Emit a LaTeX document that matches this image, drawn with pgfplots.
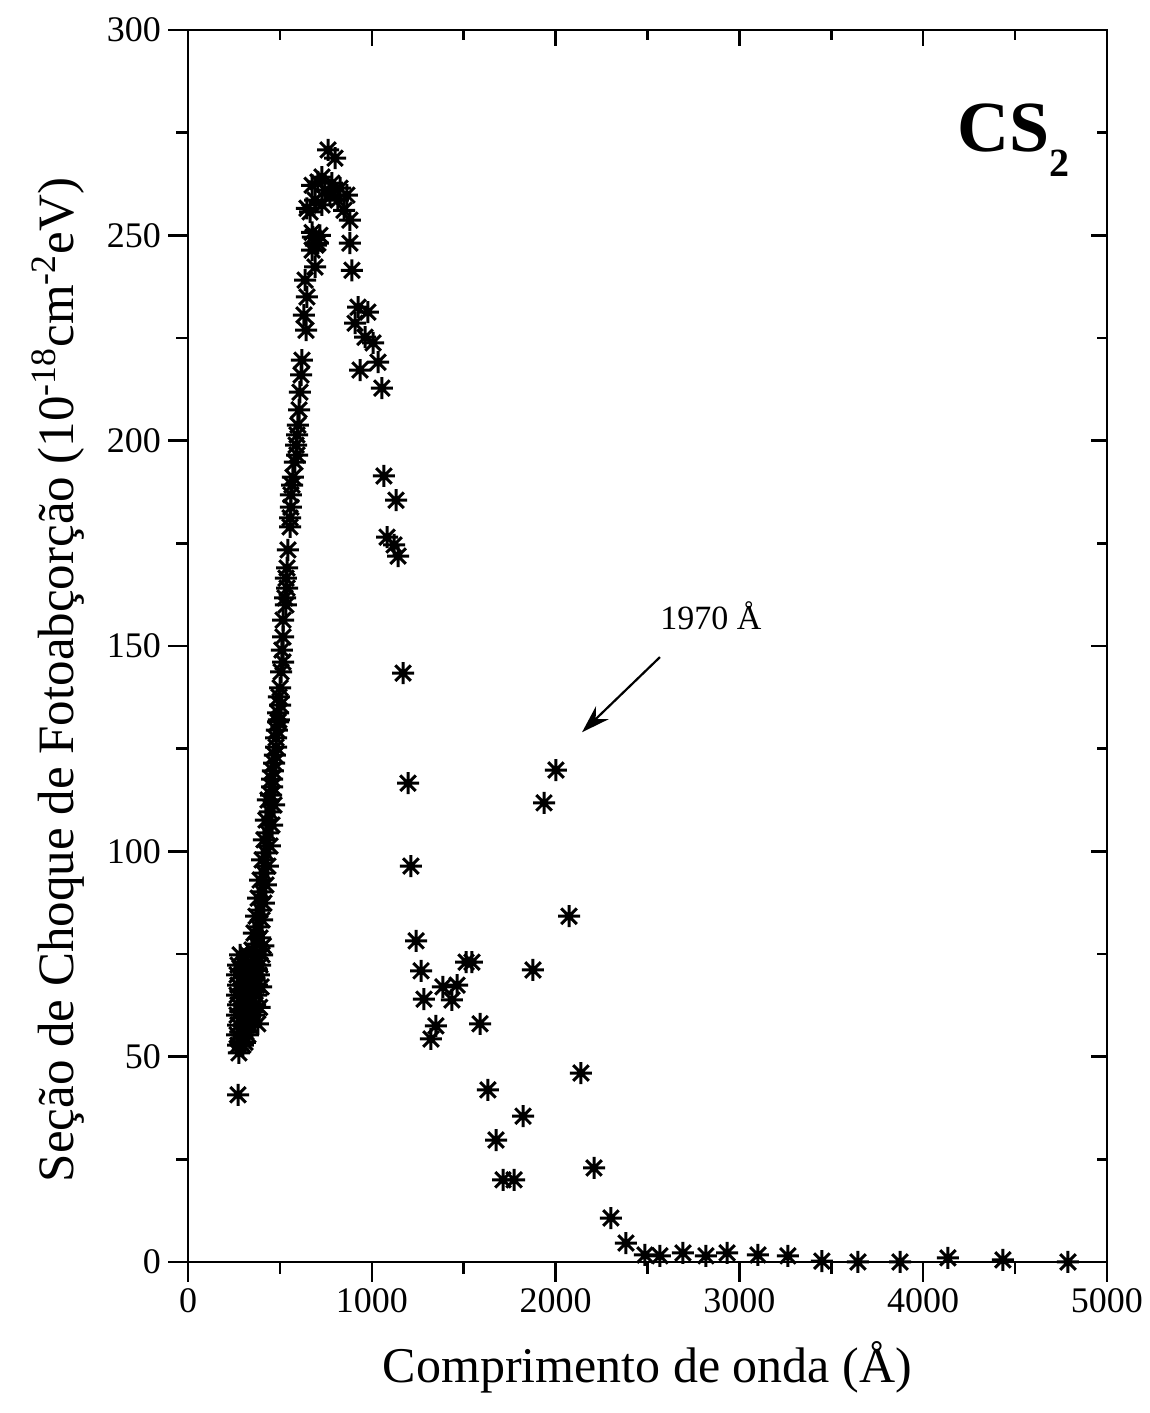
\documentclass[border=0pt]{standalone}
\usepackage{pgfplots}
\pgfplotsset{compat=1.18}
\usepackage{fontspec}
\setmainfont{Liberation Serif}
\usetikzlibrary{arrows.meta}

\pgfdeclareplotmark{star8}{%
  \pgfpathmoveto{\pgfqpoint{0pt}{\pgfplotmarksize}}%
  \pgfpathlineto{\pgfqpoint{0pt}{-\pgfplotmarksize}}%
  \pgfpathmoveto{\pgfqpoint{\pgfplotmarksize}{0pt}}%
  \pgfpathlineto{\pgfqpoint{-\pgfplotmarksize}{0pt}}%
  \pgfpathmoveto{\pgfqpoint{0.7071\pgfplotmarksize}{0.7071\pgfplotmarksize}}%
  \pgfpathlineto{\pgfqpoint{-0.7071\pgfplotmarksize}{-0.7071\pgfplotmarksize}}%
  \pgfpathmoveto{\pgfqpoint{-0.7071\pgfplotmarksize}{0.7071\pgfplotmarksize}}%
  \pgfpathlineto{\pgfqpoint{0.7071\pgfplotmarksize}{-0.7071\pgfplotmarksize}}%
  \pgfusepathqstroke}

\pgfplotstableread{
x y
283 74.8
326 74.8
370 74.8
403 74.8
272 72.3
315 72.3
359 72.3
392 72.3
290 71.0
335 71.0
375 71.0
267 69.9
310 69.9
354 69.9
386 69.9
272 67.4
305 67.4
343 67.4
375 67.4
398 67.0
285 66.0
320 66.0
355 66.0
267 65.0
299 65.0
337 65.0
370 65.0
272 62.6
305 62.6
337 62.6
365 62.6
390 62.0
285 61.0
318 61.0
348 61.0
267 60.1
299 60.1
332 60.1
359 60.1
380 58.0
272 57.7
305 57.7
337 57.7
285 56.0
315 56.0
267 55.3
299 55.3
326 55.3
285 53.5
310 53.5
272 52.8
299 52.8
277 50.9
272 40.7
410 77.0
348 76.0
370 77.4
392 78.9
359 80.1
381 81.6
403 83.3
370 84.2
392 85.7
413 87.4
381 88.6
403 90.1
424 91.8
392 93.0
413 94.7
435 96.4
403 97.9
424 99.6
446 101.3
413 102.8
435 104.5
457 106.4
424 107.6
446 109.6
468 111.3
435 112.5
452 113.7
457 115.7
457 117.6
462 119.6
468 121.5
473 123.4
479 125.4
479 127.6
484 129.5
490 131.5
495 132.0
490 133.7
501 135.6
495 137.6
501 139.8
506 143.7
517 146.1
511 149.0
517 152.2
517 156.3
533 160.0
528 161.7
539 164.1
533 166.5
539 169.0
544 173.4
555 179.0
555 181.2
560 183.8
560 186.8
566 189.2
571 191.1
582 194.8
593 196.5
588 198.9
593 201.4
598 203.8
604 207.5
609 211.8
615 216.0
620 219.6
642 226.9
631 230.6
647 235.0
637 239.1
691 242.3
675 246.4
696 247.6
680 249.6
718 250.0
675 250.7
664 255.7
647 256.6
691 258.6
729 257.4
675 262.2
707 263.0
745 261.0
783 262.7
827 261.5
865 259.8
772 259.8
816 258.6
849 256.1
729 264.2
799.8 268.8
761.7 270.8
707 248.1
881 253.7
881 248.1
892 241.5
925 232.5
979 231.3
909 228.6
963 225.2
1007 223.8
1034 219.1
936 217.2
1055 212.8
1066 191.4
1132 185.5
1083 176.5
1121 174.6
1143 171.9
1170 143.4
1197 116.6
1213 96.4
1241 78.2
1268 70.9
1284 64.0
1322 54.3
1349 57.5
1387 67.0
1436 63.8
1464 67.4
1513 73.0
1545 73.0
1589 58.0
1632 41.9
1676 29.7
1714 20.0
1774 20.0
1823 35.5
1877 71.1
1937 111.8
2002 119.8
2073 84.2
2138 46.0
2209 22.9
2301 10.7
2383 4.6
2486 1.7
2568 1.5
2693 2.2
2818 1.5
2933 2.2
3101 1.7
3264 1.5
3449 0.2
3645 0.0
3874 0.0
4135 1.0
4434 0.5
4788 0.0
}\cstwo

\begin{document}
\begin{tikzpicture}
\pgfplotsset{
  myax/.style={
    width=459.5pt, height=616pt, scale only axis,
    xmin=0, xmax=5000, ymin=0, ymax=300,
    xtick={0,1000,...,5000}, ytick={0,50,...,300},
    minor x tick num=1, minor y tick num=1,
    axis line style={line width=1.4pt},
    tick style={line width=1.3pt, black},
  }
}
\begin{axis}[myax,
  xtick pos=left, ytick pos=left, tick align=outside,
  major tick length=10pt, minor tick length=6pt,
  ticklabel style={font=\fontsize{18}{21}\selectfont},
  /pgf/number format/assume math mode=true,
  /pgf/number format/1000 sep={},
  clip=false,
  xlabel={Comprimento de onda (Å)},
  xlabel style={at={(axis description cs:0.5,-0.0982)}, anchor=base, font=\fontsize{25}{30}\selectfont},
  ylabel={Seção de Choque de Fotoabçorção (10\textsuperscript{-18}cm\textsuperscript{-2}eV)},
  ylabel style={at={(axis description cs:-0.125,0.4724)}, anchor=base, font=\fontsize{25.5}{30}\selectfont},
]
\path (rel axis cs:-0.2046,-0.1226) rectangle (rel axis cs:1.0435,1.0244);
\addplot[black, only marks, mark=star8, mark size=5.5pt, mark options={line width=1.5pt, black}] table[x=x, y=y] {\cstwo};
\node[anchor=base west, inner sep=0pt, font=\fontsize{36}{40}\selectfont\bfseries] at (axis cs:4184,270.3) {CS\raisebox{-12.5pt}{\fontsize{20}{22}\selectfont 2}};
\node[anchor=base west, inner sep=0pt, font=\fontsize{17}{20}\selectfont] at (axis cs:2568,154.1) {1970 Å};
\draw[line width=1.1pt, -{Stealth[length=14pt, width=9pt]}] (axis cs:2568,147.3) -- (axis cs:2144,129);
\end{axis}
\begin{axis}[myax,
  xtick pos=right, ytick pos=right, tick align=inside,
  major tick length=8pt, minor tick length=5pt,
  xticklabels={}, yticklabels={},
]
\end{axis}
\end{tikzpicture}
\end{document}
